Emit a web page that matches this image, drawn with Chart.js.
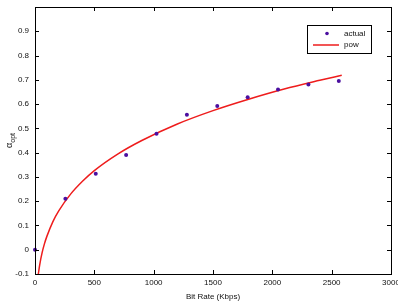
<!DOCTYPE html>
<html>
<head>
<meta charset="utf-8">
<script src="https://cdn.jsdelivr.net/npm/chart.js@4/dist/chart.umd.min.js"></script>
<style>
  html, body { margin: 0; padding: 0; background: #fff; }
  #wrap { width: 398px; height: 302px; }
</style>
</head>
<body>
<div id="wrap"><canvas id="myChart"></canvas></div>
<script>
// measured points
var bitRate = [0, 256, 512, 768, 1024, 1280, 1536, 1792, 2048, 2304, 2560];
var alphaOpt = [0.0, 0.21, 0.313, 0.39, 0.478, 0.556, 0.592, 0.628, 0.66, 0.681, 0.695];

// fitted power curve
var powX = [28, 40, 60, 80, 100, 150, 200, 300, 400, 500, 700, 900, 1200, 1500, 1800, 2100, 2400, 2585];
var powY = [-0.1, -0.061, -0.012, 0.025, 0.055, 0.115, 0.16, 0.229, 0.282, 0.326, 0.395, 0.45, 0.518, 0.573, 0.62, 0.662, 0.698, 0.719];

var labels = ['actual', 'pow'];
var xTitle = 'Bit Rate (Kbps)';

var font = 'Arial, "Liberation Sans", sans-serif';

// matlab style: ticks pointing inwards on all four sides, plus legend box and y label
var matlabAxes = {
    id: 'matlabAxes',
    afterDraw: function(chart){
        var c = chart.ctx;
        var a = chart.chartArea;
        var xs = chart.scales.x, ys = chart.scales.y;
        c.save();
        c.strokeStyle = '#000';
        c.lineWidth = 1;
        c.beginPath();
        xs.ticks.forEach(function(t){
            var px = Math.round(xs.getPixelForValue(t.value)) + 0.5;
            c.moveTo(px, a.bottom); c.lineTo(px, a.bottom - 4);
            c.moveTo(px, a.top); c.lineTo(px, a.top + 4);
        });
        ys.ticks.forEach(function(t){
            var py = Math.round(ys.getPixelForValue(t.value)) + 0.5;
            c.moveTo(a.left, py); c.lineTo(a.left + 4, py);
            c.moveTo(a.right, py); c.lineTo(a.right - 4, py);
        });
        c.stroke();
        c.strokeRect(Math.round(a.left) + 0.5, Math.round(a.top) + 0.5, Math.round(a.right - a.left), Math.round(a.bottom - a.top));

        // legend
        var lx = 307.5, ly = 25.5, lw = 64, lh = 28;
        c.fillStyle = '#fff';
        c.fillRect(lx, ly, lw, lh);
        c.strokeRect(lx, ly, lw, lh);
        c.fillStyle = chart.data.datasets[0].backgroundColor;
        c.beginPath();
        c.arc(327, 33.5, 1.8, 0, Math.PI * 2);
        c.fill();
        c.strokeStyle = chart.data.datasets[1].borderColor;
        c.lineWidth = 1.5;
        c.beginPath();
        c.moveTo(313, 45); c.lineTo(339, 45);
        c.stroke();
        c.fillStyle = '#111';
        c.font = '8px ' + font;
        c.textBaseline = 'middle';
        c.textAlign = 'left';
        c.fillText(chart.data.datasets[0].label, 344, 33.5);
        c.fillText(chart.data.datasets[1].label, 344, 45);

        // y title: alpha with subscript opt
        c.translate(12, (a.top + a.bottom) / 2);
        c.rotate(-Math.PI / 2);
        c.font = '9px ' + font;
        var w1 = c.measureText('α').width;
        c.font = '7px ' + font;
        var w2 = c.measureText('opt').width;
        var x0 = -(w1 + w2) / 2;
        c.font = '9px ' + font;
        c.textBaseline = 'alphabetic';
        c.fillText('α', x0, 0);
        c.font = '7px ' + font;
        c.fillText('opt', x0 + w1, 3);
        c.restore();
    }
};

var ctx = document.getElementById('myChart');
var myChart = new Chart(ctx, {
    type: 'scatter',
    data: {
        datasets: [{
            label: labels[0],
            data: bitRate.map(function(x, i){ return {x: x, y: alphaOpt[i]}; }),
            backgroundColor: '#4b0fa0',
            borderColor: '#4b0fa0',
            pointRadius: 2,
            pointHoverRadius: 2,
            borderWidth: 0,
            showLine: false,
            clip: false,
            order: 1
        }, {
            label: labels[1],
            data: powX.map(function(x, i){ return {x: x, y: powY[i]}; }),
            borderColor: '#ee1c1c',
            backgroundColor: '#ee1c1c',
            borderWidth: 1.5,
            pointRadius: 0,
            showLine: true,
            tension: 0.4,
            cubicInterpolationMode: 'monotone',
            order: 2
        }]
    },
    options: {
        responsive: true,
        maintainAspectRatio: false,
        animation: false,
        layout: {
            padding: {left: 0, right: 7, top: 7, bottom: 0}
        },
        plugins: {
            legend: {display: false},
            tooltip: {enabled: false}
        },
        scales: {
            x: {
                type: 'linear',
                min: 0,
                max: 3000,
                grid: {drawOnChartArea: false, drawTicks: false},
                border: {display: false},
                ticks: {
                    stepSize: 500,
                    padding: 4,
                    color: '#111',
                    maxRotation: 0,
                    font: {family: font, size: 8},
                    callback: function(v){ return String(v); }
                },
                title: {
                    display: true,
                    text: xTitle,
                    color: '#111',
                    padding: {top: 1, bottom: 0},
                    font: {family: font, size: 8}
                },
                afterFit: function(scale){
                    scale.height = 28;
                    scale.paddingLeft = 0;
                    scale.paddingRight = 0;
                }
            },
            y: {
                type: 'linear',
                min: -0.1,
                max: 1.0,
                grid: {drawOnChartArea: false, drawTicks: false},
                border: {display: false},
                ticks: {
                    stepSize: 0.1,
                    padding: 6,
                    color: '#111',
                    font: {family: font, size: 8},
                    callback: function(v){
                        if (Math.abs(v - 1) < 1e-9) return '';
                        if (Math.abs(v) < 1e-9) return '0';
                        return String(Number(v.toFixed(1)));
                    }
                },
                afterFit: function(scale){
                    scale.width = 35;
                    scale.paddingTop = 0;
                    scale.paddingBottom = 0;
                }
            }
        }
    },
    plugins: [matlabAxes]
});
</script>
</body>
</html>
